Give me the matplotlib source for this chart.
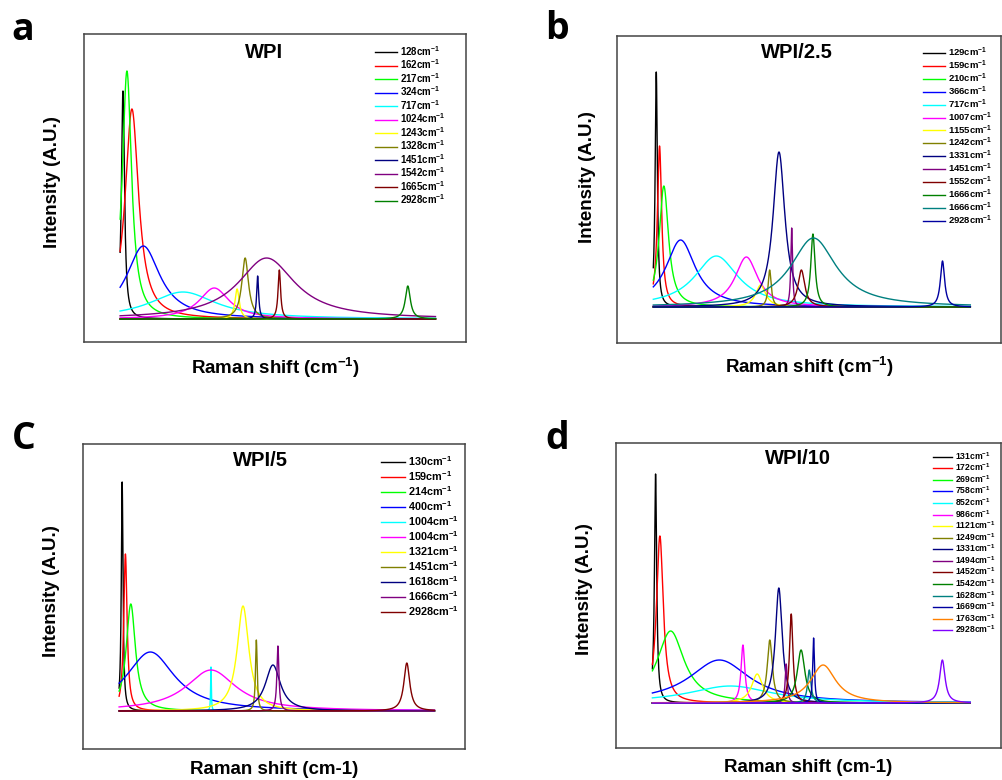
import numpy as np
import matplotlib.pyplot as plt

plt.rcParams['font.family'] = 'Liberation Sans'
plt.rcParams['font.weight'] = 'bold'
plt.rcParams['mathtext.fontset'] = 'custom'
plt.rcParams['mathtext.rm'] = 'Liberation Sans:bold'
plt.rcParams['mathtext.bf'] = 'Liberation Sans:bold'
plt.rcParams['mathtext.default'] = 'bf'

W, H = 1003, 780

# Origin default colour cycle
colors = ['#000000', '#FF0000', '#00FF00', '#0000FF', '#00FFFF', '#FF00FF',
          '#FFFF00', '#808000', '#000080', '#800080', '#800000', '#008000',
          '#008080', '#0000A0', '#FF8000', '#8000FF']

# fitted peaks: centre (cm-1), height (a.u.), half width (cm-1)
a_labels = [128, 162, 217, 324, 717, 1024, 1243, 1328, 1451, 1542, 1665, 2928]
a_center = [128, 216, 167, 328, 717, 1025, 1250, 1329, 1452, 1540, 1665, 2928]
a_height = [228, 210, 248, 73, 27, 31, 30, 61, 43, 61, 49, 33]
a_width = [18, 80, 55, 200, 400, 180, 25, 40, 12, 340, 15, 30]

b_labels = [129, 159, 210, 366, 717, 1007, 1155, 1242, 1331, 1451, 1552, 1666, 1666, 2928]
b_center = [129, 161, 203, 367, 716, 1010, 1150, 1238, 1329, 1453, 1548, 1661, 1666, 2928]
b_height = [235, 161, 121, 67, 51, 50, 22, 37, 155, 79, 37, 73, 69, 46]
b_width = [13, 25, 55, 175, 260, 135, 60, 18, 70, 10, 40, 25, 270, 25]

c_labels = [130, 159, 214, 400, 1004, 1004, 1321, 1451, 1618, 1666, 2928]
c_center = [130, 162, 215, 407, 1003, 1003, 1318, 1449, 1612, 1661, 2928]
c_height = [229, 157, 107, 59, 44, 41, 105, 71, 46, 65, 48]
c_width = [10, 20, 55, 290, 4, 300, 70, 10, 90, 12, 35]

d_labels = [131, 172, 269, 758, 852, 986, 1121, 1249, 1331, 1494, 1452, 1542, 1628, 1669, 1763, 2928]
d_center = [131, 173, 278, 753, 860, 983, 1122, 1245, 1333, 1405, 1454, 1550, 1630, 1672, 1765, 2928]
d_height = [229, 167, 72, 43, 17, 58, 29, 63, 115, 39, 89, 53, 33, 65, 38, 43]
d_width = [13, 40, 160, 360, 500, 22, 65, 30, 40, 12, 20, 45, 20, 10, 150, 32]

x = np.linspace(100, 3200, 3101)

fig = plt.figure(figsize=(W / 100, H / 100), dpi=100)


def fx(px):
    return px / W


def fy(py):
    return 1 - py / H


def panel(frame, labels, centers, heights, widths, ylim, title, title_xy,
          fs, leg_xy, hl, spacing):
    x0, y0, x1, y1 = frame
    ax = fig.add_axes([fx(x0), fy(y1), fx(x1) - fx(x0), fy(y0) - fy(y1)])
    for i in range(len(labels)):
        y = heights[i] / (1 + ((x - centers[i]) / widths[i]) ** 2)
        ax.plot(x, y, color=colors[i], lw=1.0, label=str(labels[i]) + r'cm$^{-1}$')
    ax.set_xlim(-255, 3500)
    ax.set_ylim(*ylim)
    ax.set_xticks([])
    ax.set_yticks([])
    for s in ax.spines.values():
        s.set_color('#444444')
        s.set_linewidth(1.1)
    ax.legend(loc='upper left', bbox_to_anchor=(fx(leg_xy[0]), fy(leg_xy[1])),
              bbox_transform=fig.transFigure, frameon=False, fontsize=fs,
              borderpad=0, borderaxespad=0, handlelength=hl, handletextpad=0.3,
              labelspacing=spacing)
    fig.text(fx(title_xy[0]), fy(title_xy[1]), title, fontsize=14.5,
             fontweight='bold', ha='center', va='center')
    return ax


panel((84, 34, 466, 342), a_labels, a_center, a_height, a_width, (-23, 285),
      'WPI', (264, 52), 7, (375, 44), 2.26, -0.03)
panel((617, 36, 1001, 343), b_labels, b_center, b_height, b_width, (-36, 271),
      'WPI/2.5', (797, 52), 6.8, (923, 46), 2.33, -0.045)
panel((83, 444, 465, 749), c_labels, c_center, c_height, c_width, (-38, 267),
      'WPI/5', (260, 460), 7.8, (381, 454), 2.2, 0.11)
panel((616, 443, 1001, 748), d_labels, d_center, d_height, d_width, (-45, 260),
      'WPI/10', (798, 458), 6.2, (933, 450), 2.2, -0.015)

# axis titles
for (xx, yy) in [(53, 182), (587, 177), (52, 591), (585, 589)]:
    fig.text(fx(xx), fy(yy), 'Intensity (A.U.)', fontsize=13.5, fontweight='bold',
             rotation=90, ha='center', va='center')
for (xx, yy, t) in [(275, 368, r'Raman shift (cm$^{-1}$)'), (809, 367, r'Raman shift (cm$^{-1}$)'),
                    (274, 769, 'Raman shift (cm-1)'), (808, 768, 'Raman shift (cm-1)')]:
    fig.text(fx(xx), fy(yy), t, fontsize=13.5, fontweight='bold', ha='center', va='center')

# panel letters
for (xx, yy, t) in [(23, 40, 'a'), (557, 39, 'b'), (24, 449, 'C'), (557, 449, 'd')]:
    fig.text(fx(xx), fy(yy), t, fontsize=27, fontweight='bold', family='Open Sans',
             ha='center', va='baseline')

fig.savefig('out.png', dpi=100)
